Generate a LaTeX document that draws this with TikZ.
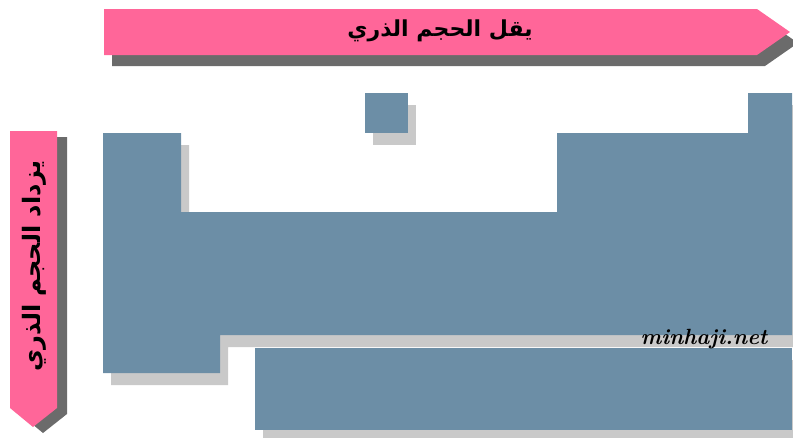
\documentclass[tikz,border=0pt]{standalone}
\usepackage{fontspec}
\newfontfamily\arabicfont[Script=Arabic]{DejaVu Sans}
\TeXXeTstate=1
\usepackage{tikz}
\usetikzlibrary{positioning, calc}
\definecolor{arrowpink}{RGB}{255,102,153}
\definecolor{darkshade}{RGB}{107,107,107}
\definecolor{lightshade}{RGB}{201,201,201}
\definecolor{tableblue}{RGB}{108,142,166}
\tikzstyle{label} = [font=\arabicfont\bfseries\fontsize{22}{22}\selectfont, text=black, inner sep=0pt]

\begin{document}
\begin{tikzpicture}[
    x=1pt, y=-1pt,
    band/.style={fill=arrowpink},
    bandshade/.style={fill=darkshade},
    block/.style={fill=tableblue},
    blockshade/.style={fill=lightshade}
]
    \useasboundingbox (0,0) rectangle (793,437);

    % Top arrow (decreasing size)
    \fill[bandshade, shift={(8,11)}] (104,9) -- (757,9) -- (790,32) -- (757,55) -- (104,55) -- cycle;
    \fill[band] (104,9) -- (757,9) -- (790,32) -- (757,55) -- (104,55) -- cycle;
    \node[label] (across) at (440,31) {\beginR يقل الحجم الذري\endR};

    % Left arrow (increasing size)
    \fill[bandshade, shift={(10,6)}] (10,131) -- (57,131) -- (57,408) -- (33,427) -- (10,408) -- cycle;
    \fill[band] (10,131) -- (57,131) -- (57,408) -- (33,427) -- (10,408) -- cycle;
    \node[label, font=\arabicfont\bfseries\fontsize{24}{24}\selectfont, rotate=90] (down) at (34,266) {\beginR يزداد الحجم الذري\endR};

    % Shadows of the table
    \begin{scope}[shift={(8,12)}]
        \fill[blockshade] (365,93) rectangle (408,133);
        \fill[blockshade] (103,133) -- (181,133) -- (181,212) -- (557,212) -- (557,133) -- (748,133) -- (748,93)
            -- (792,93) -- (792,335) -- (220,335) -- (220,373) -- (103,373) -- cycle;
        \fill[blockshade] (255,348) rectangle (792,430);
    \end{scope}

    % Table blocks
    \fill[block] (365,93) rectangle (408,133);
    \fill[block] (103,133) -- (181,133) -- (181,212) -- (557,212) -- (557,133) -- (748,133) -- (748,93)
        -- (792,93) -- (792,335) -- (220,335) -- (220,373) -- (103,373) -- cycle;
    \fill[block] (255,348) rectangle (792,430);

    % Site mark
    \node[font=\bfseries\itshape\fontsize{22}{22}\selectfont, inner sep=0pt] (site) at (704,339) {minhaji.net};

\end{tikzpicture}
\end{document}
